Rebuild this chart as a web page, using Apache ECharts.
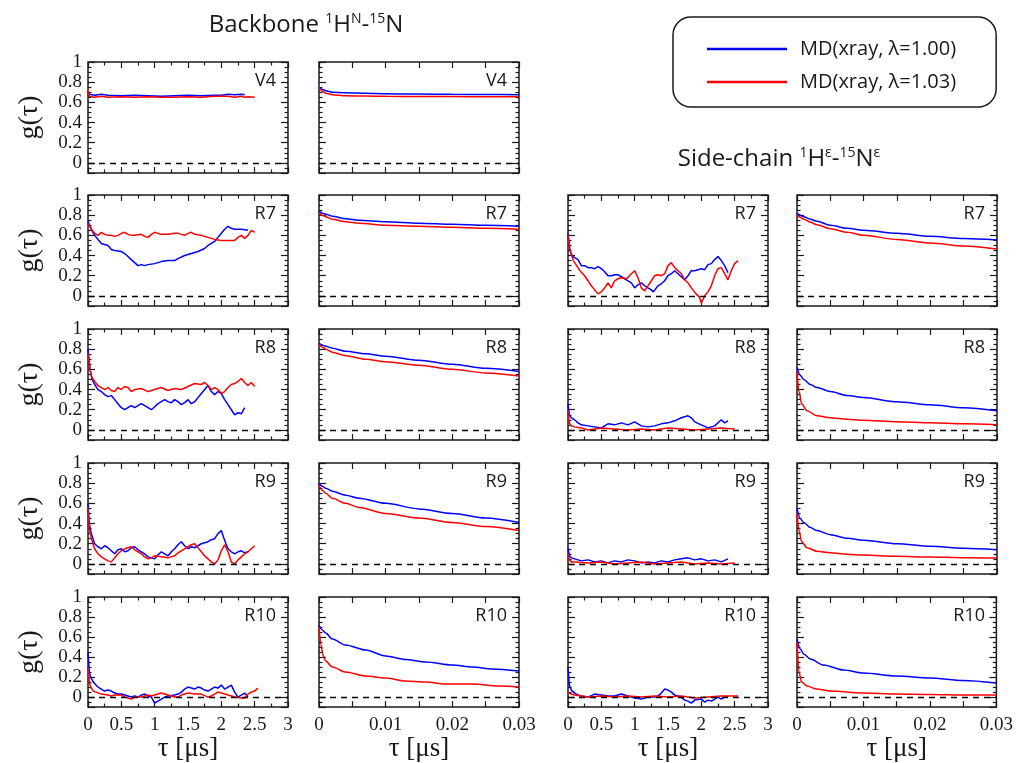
<!DOCTYPE html>
<html>
<head>
<meta charset="utf-8">
<script src="https://cdn.jsdelivr.net/npm/echarts@6/dist/echarts.min.js"></script>
<style>html,body{margin:0;padding:0;background:#fff}#c{width:1016px;height:763px}</style>
</head>
<body>
<div id="c"></div>
<script>
// ---------- DATA ----------
const seriesNames = ['MD(xray, λ=1.00)', 'MD(xray, λ=1.03)'];
const longTicks = ['0', '0.5', '1', '1.5', '2', '2.5', '3'];
const shortTicks = ['0', '0.01', '0.02', '0.03'];
const yTicks = ['0', '0.2', '0.4', '0.6', '0.8', '1'];

// Backbone V4
const bbV4LongBlue = [[0,0.71],[0.02,0.68],[0.1,0.67],[0.2,0.68],[0.3,0.67],[0.5,0.665],[0.7,0.67],[0.9,0.665],[1.1,0.66],[1.3,0.665],[1.5,0.67],[1.7,0.665],[1.9,0.67],[2.0,0.67],[2.1,0.68],[2.2,0.675],[2.3,0.68],[2.35,0.675]];
const bbV4LongRed = [[0,0.72],[0.02,0.66],[0.05,0.67],[0.1,0.65],[0.2,0.66],[0.3,0.65],[0.5,0.655],[0.7,0.65],[0.9,0.655],[1.1,0.65],[1.3,0.65],[1.5,0.655],[1.7,0.65],[1.9,0.66],[2.1,0.66],[2.2,0.65],[2.3,0.66],[2.35,0.65],[2.4,0.655],[2.5,0.65]];
const bbV4ShortBlue = [[0,0.75],[0.0005,0.73],[0.001,0.715],[0.002,0.70],[0.004,0.695],[0.007,0.69],[0.01,0.685],[0.015,0.683],[0.02,0.68],[0.025,0.678],[0.03,0.675]];
const bbV4ShortRed = [[0,0.75],[0.0005,0.71],[0.001,0.69],[0.002,0.675],[0.004,0.665],[0.007,0.662],[0.01,0.66],[0.015,0.658],[0.02,0.657],[0.025,0.656],[0.03,0.655]];

// Backbone R7
const bbR7LongBlue = [[0,0.74],[0.05,0.66],[0.1,0.6],[0.15,0.56],[0.2,0.52],[0.25,0.51],[0.3,0.5],[0.35,0.46],[0.4,0.45],[0.5,0.44],[0.55,0.42],[0.6,0.39],[0.65,0.36],[0.7,0.33],[0.75,0.3],[0.8,0.31],[0.85,0.3],[0.9,0.31],[1.0,0.32],[1.1,0.34],[1.2,0.35],[1.3,0.35],[1.35,0.37],[1.45,0.4],[1.55,0.42],[1.65,0.44],[1.75,0.47],[1.8,0.5],[1.85,0.52],[1.9,0.54],[1.95,0.58],[2.0,0.62],[2.05,0.66],[2.1,0.69],[2.15,0.67],[2.2,0.66],[2.3,0.66],[2.4,0.65]];
const bbR7LongRed = [[0,0.72],[0.05,0.66],[0.1,0.62],[0.15,0.6],[0.2,0.63],[0.25,0.61],[0.3,0.6],[0.35,0.6],[0.4,0.59],[0.45,0.6],[0.5,0.62],[0.55,0.63],[0.6,0.61],[0.65,0.6],[0.7,0.6],[0.8,0.61],[0.85,0.59],[0.9,0.58],[0.95,0.61],[1.0,0.63],[1.05,0.62],[1.1,0.61],[1.2,0.61],[1.3,0.62],[1.35,0.62],[1.45,0.6],[1.5,0.62],[1.55,0.63],[1.6,0.61],[1.7,0.6],[1.8,0.58],[1.85,0.57],[1.9,0.56],[2.0,0.55],[2.1,0.55],[2.2,0.55],[2.25,0.58],[2.3,0.6],[2.35,0.57],[2.4,0.6],[2.45,0.65],[2.5,0.63]];
const bbR7ShortBlue = [[0,0.84],[0.0005,0.82],[0.001,0.81],[0.002,0.79],[0.004,0.765],[0.006,0.75],[0.01,0.735],[0.015,0.72],[0.02,0.71],[0.025,0.70],[0.03,0.69]];
const bbR7ShortRed = [[0,0.82],[0.0005,0.8],[0.001,0.785],[0.002,0.76],[0.004,0.735],[0.006,0.72],[0.01,0.70],[0.015,0.69],[0.02,0.68],[0.025,0.67],[0.03,0.66]];

// Backbone R8
const bbR8LongBlue = [[0,0.8],[0.03,0.6],[0.06,0.5],[0.1,0.45],[0.15,0.4],[0.2,0.38],[0.25,0.35],[0.3,0.33],[0.35,0.34],[0.4,0.3],[0.45,0.26],[0.5,0.22],[0.55,0.2],[0.6,0.22],[0.65,0.24],[0.7,0.22],[0.75,0.24],[0.8,0.26],[0.85,0.24],[0.9,0.22],[0.95,0.2],[1.0,0.23],[1.05,0.26],[1.1,0.28],[1.15,0.3],[1.2,0.28],[1.25,0.27],[1.3,0.3],[1.35,0.28],[1.4,0.25],[1.45,0.27],[1.5,0.3],[1.55,0.26],[1.6,0.28],[1.65,0.32],[1.7,0.36],[1.75,0.4],[1.8,0.44],[1.85,0.38],[1.9,0.35],[1.95,0.38],[2.0,0.36],[2.05,0.3],[2.1,0.25],[2.15,0.2],[2.2,0.15],[2.25,0.17],[2.3,0.16],[2.35,0.22]];
const bbR8LongRed = [[0,0.76],[0.03,0.6],[0.06,0.52],[0.1,0.48],[0.15,0.44],[0.2,0.42],[0.25,0.4],[0.3,0.42],[0.35,0.39],[0.4,0.38],[0.45,0.42],[0.5,0.4],[0.55,0.43],[0.6,0.42],[0.65,0.38],[0.7,0.4],[0.8,0.41],[0.9,0.38],[1.0,0.4],[1.1,0.42],[1.2,0.39],[1.3,0.41],[1.4,0.4],[1.5,0.43],[1.6,0.46],[1.7,0.45],[1.75,0.47],[1.8,0.44],[1.85,0.4],[1.9,0.42],[1.95,0.4],[2.0,0.36],[2.05,0.38],[2.1,0.42],[2.15,0.45],[2.2,0.46],[2.25,0.48],[2.3,0.51],[2.35,0.47],[2.4,0.44],[2.45,0.47],[2.5,0.43]];
const bbR8ShortBlue = [[0,0.86],[0.0005,0.84],[0.001,0.83],[0.002,0.81],[0.004,0.78],[0.007,0.755],[0.01,0.73],[0.015,0.69],[0.02,0.65],[0.025,0.61],[0.03,0.58]];
const bbR8ShortRed = [[0,0.85],[0.0005,0.82],[0.001,0.8],[0.002,0.77],[0.004,0.735],[0.007,0.7],[0.01,0.675],[0.015,0.64],[0.02,0.6],[0.025,0.565],[0.03,0.535]];

// Backbone R9
const bbR9LongBlue = [[0,0.6],[0.02,0.4],[0.05,0.3],[0.1,0.2],[0.15,0.17],[0.2,0.15],[0.25,0.18],[0.3,0.16],[0.35,0.13],[0.4,0.1],[0.45,0.14],[0.5,0.15],[0.55,0.12],[0.6,0.13],[0.65,0.16],[0.7,0.17],[0.75,0.14],[0.8,0.12],[0.85,0.1],[0.9,0.07],[0.95,0.06],[1.0,0.05],[1.05,0.09],[1.1,0.12],[1.15,0.1],[1.2,0.08],[1.25,0.12],[1.3,0.15],[1.35,0.19],[1.4,0.22],[1.45,0.18],[1.5,0.15],[1.55,0.17],[1.6,0.16],[1.65,0.18],[1.7,0.2],[1.75,0.21],[1.8,0.22],[1.85,0.24],[1.9,0.25],[1.95,0.3],[2.0,0.33],[2.03,0.27],[2.07,0.2],[2.1,0.15],[2.15,0.12],[2.2,0.1],[2.25,0.12],[2.3,0.13],[2.35,0.11],[2.4,0.12]];
const bbR9LongRed = [[0,0.55],[0.02,0.35],[0.05,0.25],[0.1,0.15],[0.15,0.1],[0.2,0.07],[0.25,0.05],[0.3,0.03],[0.35,0.02],[0.4,0.06],[0.45,0.1],[0.5,0.13],[0.55,0.15],[0.6,0.16],[0.65,0.17],[0.7,0.14],[0.75,0.12],[0.8,0.1],[0.85,0.07],[0.9,0.05],[0.95,0.06],[1.0,0.08],[1.1,0.07],[1.2,0.06],[1.25,0.07],[1.3,0.08],[1.35,0.11],[1.4,0.13],[1.45,0.15],[1.5,0.17],[1.55,0.19],[1.6,0.2],[1.65,0.16],[1.7,0.12],[1.75,0.08],[1.8,0.05],[1.85,0.02],[1.9,0.0],[1.95,0.04],[2.0,0.13],[2.05,0.19],[2.1,0.12],[2.15,0.02],[2.2,0.0],[2.25,0.04],[2.3,0.07],[2.35,0.1],[2.4,0.12],[2.45,0.15],[2.5,0.18]];
const bbR9ShortBlue = [[0,0.8],[0.0005,0.77],[0.001,0.75],[0.002,0.72],[0.004,0.68],[0.006,0.65],[0.01,0.6],[0.015,0.545],[0.02,0.5],[0.025,0.455],[0.03,0.41]];
const bbR9ShortRed = [[0,0.78],[0.0005,0.73],[0.001,0.7],[0.002,0.65],[0.004,0.6],[0.006,0.56],[0.01,0.5],[0.015,0.455],[0.02,0.41],[0.025,0.37],[0.03,0.33]];

// Backbone R10
const bbR10LongBlue = [[0,0.45],[0.02,0.25],[0.04,0.2],[0.08,0.15],[0.12,0.12],[0.15,0.1],[0.2,0.08],[0.25,0.06],[0.3,0.07],[0.35,0.06],[0.4,0.04],[0.45,0.03],[0.5,0.03],[0.55,0.02],[0.6,0.01],[0.65,0.0],[0.7,0.01],[0.75,0.0],[0.8,0.02],[0.85,0.03],[0.9,0.01],[0.95,0.0],[1.0,-0.06],[1.05,-0.04],[1.1,-0.02],[1.15,0.0],[1.2,0.01],[1.3,0.02],[1.35,0.03],[1.4,0.05],[1.45,0.08],[1.5,0.1],[1.55,0.09],[1.6,0.08],[1.65,0.1],[1.7,0.09],[1.75,0.07],[1.8,0.06],[1.85,0.08],[1.9,0.1],[1.95,0.09],[2.0,0.12],[2.05,0.08],[2.1,0.1],[2.15,0.12],[2.2,0.05],[2.25,0.0],[2.3,0.02],[2.35,0.04],[2.4,0.0]];
const bbR10LongRed = [[0,0.3],[0.02,0.15],[0.04,0.1],[0.08,0.06],[0.12,0.05],[0.2,0.03],[0.3,0.02],[0.35,0.01],[0.4,0.02],[0.5,0.02],[0.55,0.0],[0.6,-0.01],[0.65,-0.02],[0.7,0.0],[0.8,0.0],[0.9,0.02],[0.95,0.01],[1.0,0.02],[1.1,0.04],[1.15,0.03],[1.2,0.02],[1.3,0.0],[1.35,0.0],[1.4,0.02],[1.5,0.04],[1.6,0.03],[1.7,0.03],[1.8,0.0],[1.85,0.01],[1.95,0.05],[2.0,0.04],[2.1,0.02],[2.2,0.0],[2.3,-0.01],[2.35,-0.01],[2.4,0.03],[2.45,0.05],[2.5,0.06],[2.55,0.09]];
const bbR10ShortBlue = [[0,0.72],[0.0005,0.67],[0.001,0.64],[0.002,0.58],[0.004,0.52],[0.007,0.47],[0.01,0.41],[0.013,0.375],[0.016,0.35],[0.02,0.32],[0.023,0.3],[0.026,0.28],[0.03,0.26]];
const bbR10ShortRed = [[0,0.7],[0.0003,0.52],[0.0006,0.42],[0.001,0.36],[0.002,0.3],[0.004,0.25],[0.007,0.21],[0.01,0.19],[0.013,0.16],[0.016,0.15],[0.019,0.13],[0.023,0.13],[0.027,0.11],[0.03,0.1]];

// Side-chain R7
const scR7LongBlue = [[0,0.62],[0.03,0.45],[0.06,0.4],[0.1,0.38],[0.15,0.36],[0.2,0.3],[0.25,0.3],[0.3,0.28],[0.35,0.28],[0.4,0.27],[0.45,0.29],[0.5,0.27],[0.55,0.24],[0.6,0.2],[0.65,0.2],[0.7,0.21],[0.75,0.21],[0.8,0.19],[0.85,0.17],[0.9,0.15],[0.95,0.13],[1.0,0.08],[1.05,0.11],[1.1,0.13],[1.15,0.1],[1.2,0.08],[1.25,0.06],[1.28,0.04],[1.35,0.1],[1.4,0.12],[1.45,0.15],[1.5,0.2],[1.55,0.22],[1.6,0.25],[1.65,0.22],[1.7,0.19],[1.75,0.16],[1.8,0.2],[1.85,0.25],[1.9,0.25],[1.95,0.26],[2.0,0.27],[2.05,0.26],[2.1,0.31],[2.15,0.32],[2.2,0.36],[2.25,0.39],[2.3,0.35],[2.35,0.3],[2.4,0.23]];
const scR7LongRed = [[0,0.6],[0.03,0.45],[0.08,0.35],[0.13,0.3],[0.18,0.25],[0.25,0.2],[0.3,0.15],[0.35,0.1],[0.4,0.06],[0.45,0.02],[0.5,0.04],[0.55,0.08],[0.6,0.13],[0.65,0.08],[0.7,0.15],[0.75,0.17],[0.8,0.18],[0.88,0.17],[0.95,0.22],[1.0,0.25],[1.05,0.18],[1.1,0.08],[1.15,0.05],[1.2,0.1],[1.25,0.15],[1.3,0.2],[1.35,0.21],[1.4,0.2],[1.45,0.22],[1.5,0.3],[1.55,0.33],[1.6,0.28],[1.65,0.25],[1.7,0.22],[1.75,0.16],[1.8,0.13],[1.85,0.08],[1.92,0.02],[1.97,-0.01],[2.0,-0.07],[2.05,0.0],[2.1,0.04],[2.15,0.1],[2.2,0.2],[2.25,0.27],[2.3,0.28],[2.35,0.22],[2.4,0.16],[2.45,0.25],[2.5,0.32],[2.55,0.35]];
const scR7ShortBlue = [[0,0.82],[0.0005,0.8],[0.001,0.785],[0.002,0.76],[0.003,0.74],[0.005,0.70],[0.0075,0.67],[0.01,0.65],[0.015,0.62],[0.02,0.59],[0.025,0.57],[0.03,0.555]];
const scR7ShortRed = [[0,0.8],[0.0005,0.78],[0.001,0.76],[0.002,0.73],[0.003,0.705],[0.005,0.665],[0.0075,0.63],[0.01,0.60],[0.015,0.56],[0.02,0.525],[0.025,0.495],[0.03,0.465]];

// Side-chain R8
const scR8LongBlue = [[0,0.26],[0.02,0.15],[0.05,0.12],[0.1,0.1],[0.15,0.07],[0.2,0.05],[0.3,0.04],[0.4,0.03],[0.5,0.02],[0.55,0.04],[0.6,0.06],[0.7,0.05],[0.8,0.07],[0.9,0.05],[1.0,0.08],[1.05,0.06],[1.1,0.04],[1.2,0.03],[1.3,0.04],[1.4,0.06],[1.5,0.07],[1.6,0.09],[1.7,0.12],[1.8,0.14],[1.85,0.12],[1.9,0.08],[2.0,0.05],[2.1,0.02],[2.2,0.04],[2.3,0.1],[2.35,0.07],[2.4,0.09]];
const scR8LongRed = [[0,0.2],[0.02,0.07],[0.05,0.04],[0.1,0.03],[0.2,0.02],[0.3,0.0],[0.5,0.02],[0.7,0.01],[0.9,0.0],[1.1,0.01],[1.3,0.0],[1.5,0.02],[1.7,0.01],[1.9,0.0],[2.1,0.01],[2.3,0.02],[2.5,0.01]];
const scR8ShortBlue = [[0,0.62],[0.0005,0.54],[0.001,0.5],[0.002,0.45],[0.003,0.42],[0.005,0.38],[0.0075,0.34],[0.01,0.32],[0.015,0.28],[0.02,0.25],[0.025,0.22],[0.03,0.19]];
const scR8ShortRed = [[0,0.58],[0.0003,0.38],[0.0007,0.26],[0.0015,0.19],[0.003,0.14],[0.005,0.12],[0.0075,0.105],[0.01,0.095],[0.015,0.08],[0.02,0.07],[0.025,0.06],[0.03,0.05]];

// Side-chain R9
const scR9LongBlue = [[0,0.16],[0.02,0.08],[0.05,0.06],[0.1,0.05],[0.2,0.03],[0.3,0.04],[0.4,0.02],[0.5,0.03],[0.6,0.01],[0.7,0.03],[0.8,0.02],[0.9,0.04],[1.0,0.03],[1.1,0.01],[1.2,0.02],[1.3,0.01],[1.4,0.03],[1.5,0.02],[1.6,0.04],[1.7,0.05],[1.8,0.06],[1.9,0.04],[2.0,0.05],[2.1,0.03],[2.2,0.04],[2.3,0.02],[2.4,0.05]];
const scR9LongRed = [[0,0.1],[0.02,0.04],[0.05,0.02],[0.1,0.02],[0.3,0.01],[0.5,0.02],[0.7,0.0],[0.9,0.01],[1.1,0.02],[1.3,0.0],[1.5,0.01],[1.7,0.02],[1.9,0.0],[2.1,0.01],[2.3,0.0],[2.5,0.01]];
const scR9ShortBlue = [[0,0.55],[0.0005,0.45],[0.001,0.41],[0.002,0.36],[0.003,0.33],[0.005,0.29],[0.0075,0.255],[0.01,0.235],[0.015,0.2],[0.02,0.175],[0.025,0.155],[0.03,0.14]];
const scR9ShortRed = [[0,0.5],[0.0003,0.33],[0.0007,0.22],[0.0015,0.16],[0.003,0.125],[0.005,0.11],[0.0075,0.095],[0.01,0.088],[0.015,0.075],[0.02,0.068],[0.025,0.062],[0.03,0.058]];

// Side-chain R10
const scR10LongBlue = [[0,0.3],[0.02,0.12],[0.05,0.07],[0.1,0.04],[0.15,0.02],[0.2,0.01],[0.3,0.0],[0.4,0.03],[0.5,0.02],[0.6,0.01],[0.7,0.01],[0.8,0.03],[0.9,0.01],[0.95,0.0],[1.0,-0.01],[1.1,-0.02],[1.2,0.0],[1.3,0.0],[1.35,0.01],[1.4,0.04],[1.45,0.08],[1.5,0.07],[1.55,0.05],[1.6,0.02],[1.7,0.0],[1.75,-0.03],[1.8,-0.04],[1.85,-0.06],[1.9,-0.03],[2.0,-0.02],[2.05,-0.05],[2.1,-0.03],[2.15,-0.04],[2.2,-0.02],[2.25,0.0],[2.3,-0.02],[2.35,0.0],[2.4,0.0]];
const scR10LongRed = [[0,0.05],[0.05,0.03],[0.1,0.02],[0.2,0.01],[0.3,0.0],[0.5,0.01],[0.7,0.0],[0.9,0.01],[1.1,0.0],[1.3,0.01],[1.5,0.0],[1.7,0.01],[1.9,-0.01],[2.1,0.0],[2.3,0.01],[2.55,0.01]];
const scR10ShortBlue = [[0,0.58],[0.0005,0.48],[0.001,0.43],[0.002,0.38],[0.004,0.32],[0.007,0.27],[0.01,0.24],[0.015,0.21],[0.02,0.19],[0.025,0.165],[0.03,0.14]];
const scR10ShortRed = [[0,0.55],[0.0003,0.25],[0.0007,0.15],[0.0015,0.11],[0.003,0.08],[0.005,0.06],[0.01,0.04],[0.015,0.03],[0.02,0.025],[0.025,0.02],[0.03,0.02]];

// panel list: row, col, label, blue, red
const panels = [
  [0,0,'V4',bbV4LongBlue,bbV4LongRed],[0,1,'V4',bbV4ShortBlue,bbV4ShortRed],
  [1,0,'R7',bbR7LongBlue,bbR7LongRed],[1,1,'R7',bbR7ShortBlue,bbR7ShortRed],
  [1,2,'R7',scR7LongBlue,scR7LongRed],[1,3,'R7',scR7ShortBlue,scR7ShortRed],
  [2,0,'R8',bbR8LongBlue,bbR8LongRed],[2,1,'R8',bbR8ShortBlue,bbR8ShortRed],
  [2,2,'R8',scR8LongBlue,scR8LongRed],[2,3,'R8',scR8ShortBlue,scR8ShortRed],
  [3,0,'R9',bbR9LongBlue,bbR9LongRed],[3,1,'R9',bbR9ShortBlue,bbR9ShortRed],
  [3,2,'R9',scR9LongBlue,scR9LongRed],[3,3,'R9',scR9ShortBlue,scR9ShortRed],
  [4,0,'R10',bbR10LongBlue,bbR10LongRed],[4,1,'R10',bbR10ShortBlue,bbR10ShortRed],
  [4,2,'R10',scR10LongBlue,scR10LongRed],[4,3,'R10',scR10ShortBlue,scR10ShortRed]
];

// ---------- LAYOUT ----------
const colLeft = [88, 319, 568, 797];
const rowTop = [62, 195, 329, 463, 597];
const PW = 200, PH = 111;
const INK = '#1a1a1a';
const SERIF = 'Liberation Serif';
const SANS = 'Open Sans';
const COLORS = ['#0000ff', '#ff0000'];

const grid = [], xAxis = [], yAxis = [], series = [], graphic = [];

panels.forEach((p, i) => {
  const [row, col, label, blue, red] = p;
  const isLong = (col === 0 || col === 2);
  const bottomRow = (row === 4);
  grid.push({left: colLeft[col], top: rowTop[row], width: PW, height: PH,
    show: true, borderColor: INK, borderWidth: 1.5, backgroundColor: 'transparent'});
  const tickLbls = isLong ? longTicks : shortTicks;
  const xBase = {
    type: 'value', gridIndex: i, min: 0, max: isLong ? 3 : 0.03,
    interval: isLong ? 0.5 : 0.01,
    axisLine: {show: false, onZero: false},
    splitLine: {show: false},
    axisTick: {show: true, inside: true, length: 6, lineStyle: {color: INK, width: 1.2}},
    minorTick: {show: true, splitNumber: 2, length: isLong ? 3.5 : 6, lineStyle: {color: INK, width: 1.2}},
  };
  xAxis.push(Object.assign({}, xBase, {
    position: 'bottom',
    axisLabel: {show: bottomRow, margin: 8, fontFamily: SERIF, fontSize: 19, color: INK,
      formatter: v => { const s = String(+v.toFixed(3)); return tickLbls.indexOf(s) >= 0 ? s : ''; }},
    name: bottomRow ? 'τ [μs]' : '', nameLocation: 'middle', nameGap: 27,
    nameTextStyle: {fontFamily: SERIF, fontSize: 27, color: INK}
  }));
  xAxis.push(Object.assign({}, xBase, {position: 'top', axisLabel: {show: false}}));

  // data axis (hidden)
  yAxis.push({type: 'value', gridIndex: i, min: -0.1, max: 1, show: false});
  // display axes: inverse trick so that the ticks fall on 0, 0.2, ... 1
  const yBase = {
    type: 'value', gridIndex: i, inverse: true, min: -1, max: 0.1, interval: 0.2,
    axisLine: {show: false, onZero: false}, splitLine: {show: false},
    axisTick: {show: true, inside: true, length: 7, lineStyle: {color: INK, width: 1.2}},
    minorTick: {show: true, splitNumber: 4, length: 3.5, lineStyle: {color: INK, width: 1.2}}
  };
  yAxis.push(Object.assign({}, yBase, {
    position: 'left',
    axisLabel: {show: col === 0, margin: 6, fontFamily: SERIF, fontSize: 19, color: INK,
      formatter: v => { const s = String(+(-v).toFixed(2)); return yTicks.indexOf(s) >= 0 ? s : ''; }},
    name: col === 0 ? 'g(τ)' : '', nameLocation: 'middle', nameGap: 44,
    nameTextStyle: {fontFamily: SERIF, fontSize: 28, color: INK}
  }));
  yAxis.push(Object.assign({}, yBase, {position: 'right', axisLabel: {show: false}}));

  [blue, red].forEach((d, k) => {
    const s = {
      type: 'line', name: seriesNames[k], xAxisIndex: 2 * i, yAxisIndex: 3 * i,
      data: d, showSymbol: false, symbol: 'none', clip: true,
      smooth: isLong ? false : 0.3, smoothMonotone: 'x',
      lineStyle: {color: COLORS[k], width: 1.5}, itemStyle: {color: COLORS[k]},
      z: 3 + k
    };
    if (k === 0) {
      s.markLine = {silent: true, symbol: ['none', 'none'], label: {show: false},
        lineStyle: {color: '#000', type: [6, 5], width: 1.3}, data: [{yAxis: 0}], animation: false};
    }
    series.push(s);
  });

  graphic.push({type: 'text', x: colLeft[col] + PW - 12, y: rowTop[row] + 19, z: 10,
    style: {text: label, align: 'right', verticalAlign: 'middle', fontFamily: SANS, fontSize: 18, fill: INK}});
});

const supStyle = {fontFamily: SANS, fontSize: 14, fill: INK, lineHeight: 14, verticalAlign: 'top'};
graphic.push({type: 'text', x: 306, y: 25, z: 10,
  style: {text: 'Backbone {s|1}H{s|N}-{s|15}N', align: 'center', verticalAlign: 'middle',
    fontFamily: SANS, fontSize: 24, lineHeight: 26, fill: INK, rich: {s: supStyle}}});
graphic.push({type: 'text', x: 779, y: 159, z: 10,
  style: {text: 'Side-chain {s|1}H{s|ε}-{s|15}N{s|ε}', align: 'center', verticalAlign: 'middle',
    fontFamily: SANS, fontSize: 24, lineHeight: 26, fill: INK, rich: {s: supStyle}}});

const option = {
  animation: false,
  backgroundColor: '#fff',
  legend: {
    left: 673, top: 17, orient: 'vertical', data: seriesNames, icon: 'rect',
    itemWidth: 80, itemHeight: 2.5, itemGap: 11,
    padding: [21, 40, 14, 34], borderColor: INK, borderWidth: 1.5, borderRadius: 18,
    textStyle: {fontFamily: SANS, fontSize: 20, color: INK, lineHeight: 22, padding: [0, 0, 0, 8]},
    selectedMode: false
  },
  grid, xAxis, yAxis, series, graphic
};

const chart = echarts.init(document.getElementById('c'), null, {renderer: 'canvas'});
chart.setOption(option);
</script>
</body>
</html>
